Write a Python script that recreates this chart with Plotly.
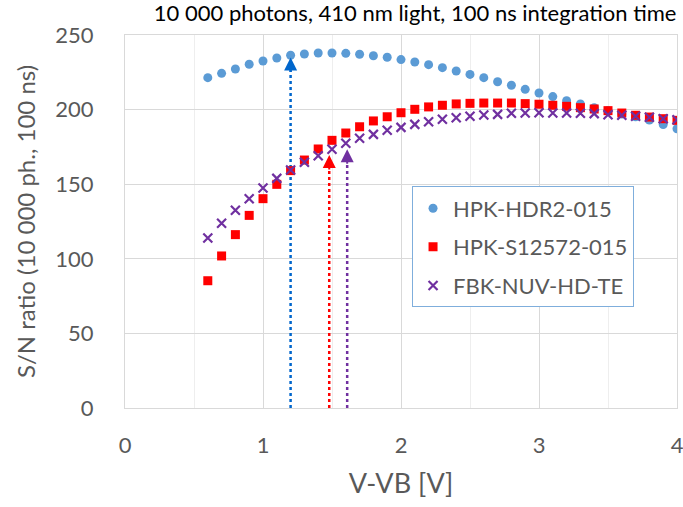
import plotly.graph_objects as go

v = [round(0.6 + 0.1 * i, 1) for i in range(35)]

hdr2 = [221.4, 224.3, 227.2, 230.4, 232.6, 234.6, 236.4, 237.3, 237.9, 237.9,
        237.7, 237.1, 236.1, 235.1, 233.5, 231.9, 230.1, 228.1, 225.9, 223.6,
        221.4, 218.7, 216.3, 213.6, 211.1, 208.7, 206.0, 203.8, 201.3, 199.2,
        197.0, 195.2, 193.0, 190.0, 187.2]
s12572 = [85.3, 101.9, 116.2, 129.1, 140.3, 149.9, 159.1, 166.2, 173.6, 179.4,
          184.3, 188.5, 192.4, 195.2, 197.9, 200.2, 201.8, 202.9, 203.8, 204.2,
          204.4, 204.4, 204.4, 204.0, 203.6, 202.9, 202.2, 201.3, 200.4, 199.3,
          197.7, 196.2, 195.0, 193.9, 192.8]
fbk = [113.9, 123.8, 132.5, 140.3, 147.5, 153.9, 159.5, 164.7, 169.1, 173.4,
       177.4, 180.8, 183.4, 186.1, 188.1, 190.1, 191.9, 193.5, 194.6, 195.5,
       196.4, 196.8, 197.5, 197.7, 197.9, 197.7, 197.7, 197.5, 197.3, 196.6,
       196.2, 195.5, 194.9, 193.9, 193.2]

names = ["HPK-HDR2-015", "HPK-S12572-015", "FBK-NUV-HD-TE"]
arrow_x = [1.2, 1.48, 1.61]
arrow_y = [235.0, 169.6, 173.4]
arrow_colors = ["#0066CC", "#FF0000", "#7030A0"]

fig = go.Figure()

# dotted vertical arrow shafts
for ax_, ay_, c in zip(arrow_x, arrow_y, arrow_colors):
    fig.add_trace(go.Scatter(x=[ax_, ax_], y=[0, ay_ - 6], mode="lines",
                             line=dict(color=c, width=2.5, dash="dot"),
                             showlegend=False, hoverinfo="skip"))

fig.add_trace(go.Scatter(x=v, y=hdr2, mode="markers", name=names[0],
                         legendgroup="g1",
                         marker=dict(symbol="circle", size=9, color="#5B9BD5")))
fig.add_trace(go.Scatter(x=v, y=s12572, mode="markers", name=names[1],
                         legendgroup="g2",
                         marker=dict(symbol="square", size=9, color="#FF0000")))
fig.add_trace(go.Scatter(x=v, y=fbk, mode="markers", name=names[2],
                         legendgroup="g3",
                         marker=dict(symbol="x-thin", size=9,
                                     line=dict(color="#7030A0", width=2.2),
                                     color="#7030A0")))

for ax_, ay_, c in zip(arrow_x, arrow_y, arrow_colors):
    fig.add_annotation(x=ax_, y=ay_, ax=0, ay=16, xref="x", yref="y",
                       showarrow=True, arrowhead=2, arrowsize=1.3,
                       arrowwidth=2, arrowcolor=c, text="")

fig.update_layout(
    width=683, height=507,
    margin=dict(l=125, r=6, t=35, b=99, autoexpand=False),
    paper_bgcolor="white", plot_bgcolor="white",
    font=dict(family="Lato", color="#595959"),
    title=dict(text="10 000 photons, 410 nm light, 100 ns integration time",
               font=dict(size=22, color="black"), x=0.999, xanchor="right",
               xref="paper", yref="container", y=0.989, yanchor="top"),
    legend=dict(x=0.52, y=0.594, xanchor="left", yanchor="top",
                bordercolor="#7FAEDC", borderwidth=1, bgcolor="white",
                font=dict(size=22, color="#595959"),
                traceorder="grouped",
                tracegroupgap=7, itemwidth=30, entrywidth=182),
    showlegend=True,
)

fig.update_xaxes(range=[0, 4], dtick=1, tick0=0, automargin=False,
                 showgrid=True, gridcolor="#D9D9D9", gridwidth=1,
                 minor=dict(dtick=0.5, showgrid=True, gridcolor="#EEEEEE"),
                 showline=True, linecolor="#D9D9D9", linewidth=1, mirror=True,
                 zeroline=False, ticks="", tickfont=dict(size=22, color="#595959"),
                 ticklabelstandoff=18, ticklabeloverflow="allow",
                 title=dict(text="V-VB [V]", font=dict(size=27, color="#595959"),
                            standoff=16))
fig.update_yaxes(range=[0, 250], dtick=50, tick0=0, automargin=False,
                 showgrid=True, gridcolor="#D9D9D9", gridwidth=1,
                 showline=True, linecolor="#D9D9D9", linewidth=1, mirror=True,
                 zeroline=False, ticks="", tickfont=dict(size=22, color="#595959"),
                 ticklabelstandoff=26,
                 title=dict(text="S/N ratio (10 000 ph., 100 ns)",
                            font=dict(size=24, color="#595959"), standoff=12))

fig.write_html("out.html")
